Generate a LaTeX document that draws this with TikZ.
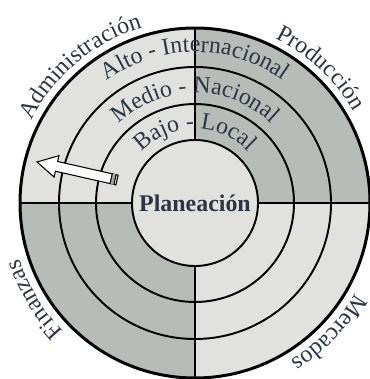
\documentclass[tikz,border=0pt]{standalone}
\usepackage{fontspec}
\setmainfont{Liberation Serif}
\usetikzlibrary{decorations.text}
\definecolor{claro}{HTML}{E1E2E0}
\definecolor{oscuro}{HTML}{B7BCB9}
\definecolor{tinta}{HTML}{2E3442}
\newcommand\rotulo{\fontsize{13.6}{16}\selectfont}

\begin{document}
\begin{tikzpicture}[
    every node/.style={font=\rotulo, text=tinta},
    anillo/.style={line width=1.1pt},
    borde/.style={line width=1.7pt},
    etiqueta/.style={decorate, decoration={text along path, text align=center,
        text color=tinta, text={|\rotulo|#1}}},
  ]
  \useasboundingbox (-3.9,-3.52) rectangle (3.5,4.06);

  % Quadrants
  \fill[claro]  (0,0) -- (0,3.5)  arc (90:180:3.5)  -- cycle;
  \fill[oscuro] (0,0) -- (3.5,0)  arc (0:90:3.5)    -- cycle;
  \fill[oscuro] (0,0) -- (-3.5,0) arc (180:270:3.5) -- cycle;
  \fill[claro]  (0,0) -- (0,-3.5) arc (270:360:3.5) -- cycle;

  % Rings and dividers
  \draw[anillo] (0,0) circle (1.98) (0,0) circle (2.72);
  \foreach \a in {0,90,180,270}
    \draw[anillo] (\a:1.26) -- (\a:3.5);
  \draw[borde] (0,0) circle (3.5);

  % Center
  \node[circle, draw, anillo, fill=claro, minimum size=2.52cm, inner sep=0pt,
    font=\rotulo\bfseries] (plan) at (0,0) {Planeación};

  % Ring labels
  \path[etiqueta={Alto - Internacional}] (150:3.02) arc (150:30:3.02);
  \path[etiqueta={Medio - Nacional}]     (160:2.2)  arc (160:20:2.2);
  \path[etiqueta={Bajo - Local}]         (170:1.48) arc (170:10:1.48);

  % Outer labels
  \path[etiqueta={Administración}] (170:3.66) arc (170:90:3.66);
  \path[etiqueta={Producción}]     (77:3.66)  arc (77:17:3.66);
  \path[etiqueta={Mercados}]       (-14:3.68) arc (-14:-74:3.68);
  \path[etiqueta={Finanzas}]       (241:3.68) arc (241:181:3.68);

  % Arrow
  \begin{scope}[shift={(-1.56,0.46)}, rotate=167.3]
    \draw[line width=0.6pt, fill=white] (0,-0.1) -- (1.24,-0.1) -- (1.24,-0.22)
      -- (1.64,0) -- (1.24,0.22) -- (1.24,0.1) -- (0,0.1) -- cycle;
    \fill[gray!70] (0.04,-0.11) rectangle (0.12,0.11);
    \draw[line width=0.6pt] (0.04,-0.11) -- (0.04,0.11) (0.12,-0.11) -- (0.12,0.11);
  \end{scope}
\end{tikzpicture}
\end{document}
